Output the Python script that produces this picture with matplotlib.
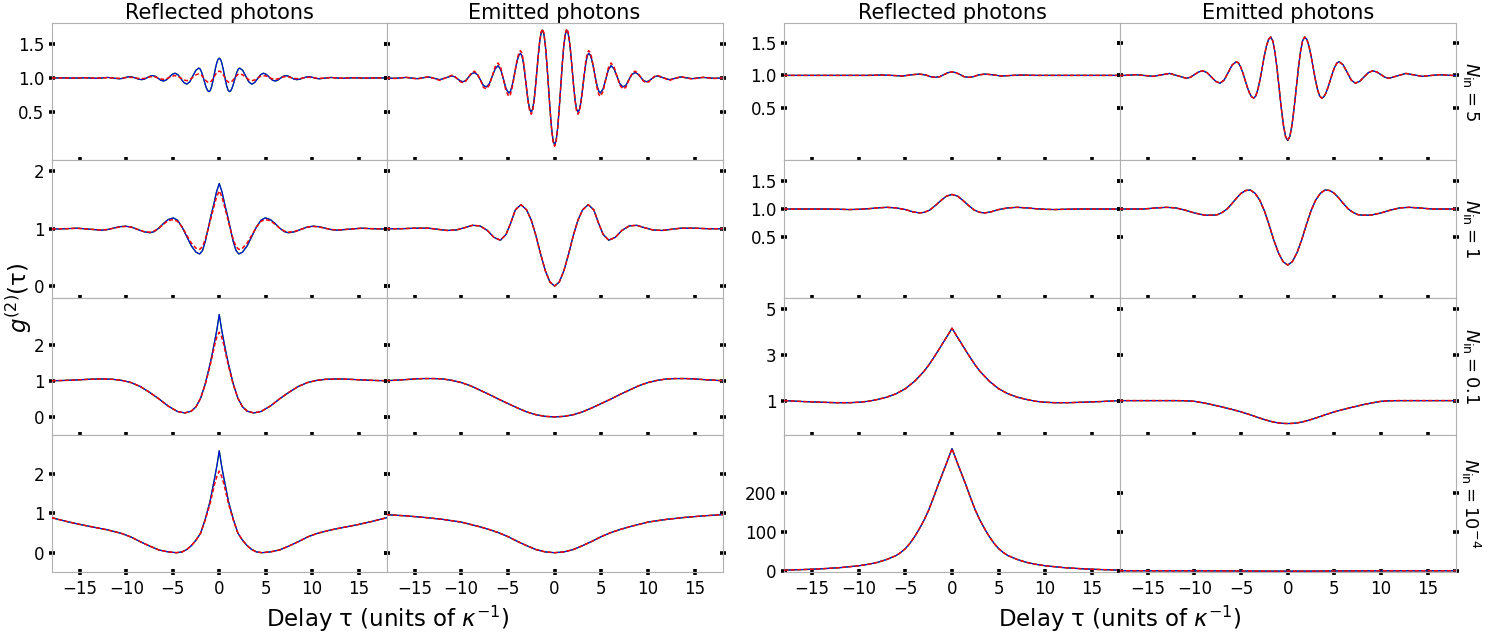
import numpy as np
import matplotlib
matplotlib.use('Agg')
import matplotlib.pyplot as plt

# ---------------- data (half curves, tau >= 0; curves are symmetric) ----------------
# Left group
tau_L1R = [0, 0.1375, 0.275, 0.4125, 0.55, 0.6875, 0.825, 0.9625, 1.1, 1.2375, 1.375, 1.5125, 1.65, 1.7875,
           1.925, 2.0625, 2.2, 2.525, 2.85, 3.175, 3.5, 3.81, 4.125, 4.44,
           4.75, 5.06, 5.375, 5.69, 6.0, 6.29, 6.575, 6.86, 7.15, 7.45, 7.75, 8.05, 8.35, 8.66, 8.975, 9.29,
           9.6, 9.9, 10.2, 10.5, 10.8, 11.4, 12.0, 12.6, 13.2, 13.8, 14.4, 15.6, 16.8, 18.0]
g_L1R_bg = [1.29, 1.271, 1.218, 1.139, 1.045, 0.951, 0.872, 0.819, 0.80, 0.813, 0.851, 0.906, 0.973, 1.039,
            1.094, 1.132, 1.145, 1.111, 1.028, 0.944, 0.91, 0.933, 0.99,
            1.047, 1.07, 1.053, 1.013, 0.972, 0.955, 0.967, 0.995, 1.023, 1.035, 1.026, 1.005, 0.984, 0.975, 0.982,
            0.997, 1.011, 1.018, 1.014, 1.003, 0.992, 0.988, 0.998, 1.008, 1.001, 0.995, 0.999, 1.003, 0.998, 1.001, 1.0]
g_L1R_r = [1.10, 1.094, 1.076, 1.049, 1.018, 0.986, 0.959, 0.941, 0.935, 0.940, 0.953, 0.974, 0.998, 1.021,
           1.042, 1.055, 1.06, 1.045, 1.01, 0.975, 0.96, 0.971, 0.998,
           1.024, 1.035, 1.027, 1.008, 0.988, 0.98, 0.986, 1.0, 1.014, 1.02, 1.016, 1.005, 0.994, 0.99, 0.993,
           1.0, 1.007, 1.01, 1.008, 1.002, 0.997, 0.995, 1.0, 1.005, 1.001, 0.998, 1.0, 1.002, 0.999, 1.0, 1.0]

tau_L1E = [0, 0.1625, 0.325, 0.4875, 0.65, 0.8125, 0.975, 1.1375, 1.3, 1.45, 1.6, 1.75, 1.9, 2.05, 2.2, 2.35,
           2.5, 2.644, 2.79, 2.931, 3.075, 3.219, 3.36, 3.506, 3.65, 3.806, 3.96, 4.119, 4.275, 4.431, 4.59,
           4.744, 4.9,
           5.19, 5.475, 5.76, 6.05, 6.36, 6.675, 6.99, 7.3, 7.625, 7.95, 8.275, 8.6, 8.9, 9.2, 9.5, 9.8, 10.1,
           10.4, 10.7, 11.0, 11.65, 12.3, 12.9, 13.5, 14.1, 14.7, 15.3, 15.9, 16.5, 17.1, 18.0]
g_L1E_bg = [0.02, 0.084, 0.266, 0.538, 0.86, 1.182, 1.454, 1.636, 1.70, 1.654, 1.524, 1.33, 1.10, 0.87, 0.676,
            0.546, 0.50, 0.533, 0.626, 0.765, 0.93, 1.095, 1.234, 1.327, 1.36, 1.338, 1.275, 1.181, 1.07, 0.959,
            0.865, 0.802, 0.78,
            0.839, 0.98, 1.121, 1.18, 1.135, 1.025, 0.915, 0.87, 0.889, 0.975, 1.049, 1.08, 1.06,
            1.013, 0.965, 0.945, 0.957, 0.988, 1.018, 1.03, 1.003, 0.975, 0.995, 1.015, 1.0025, 0.99, 0.999,
            1.008, 1.0015, 0.995, 1.0]
g_L1E_r = [0.0, 0.065, 0.252, 0.531, 0.86, 1.189, 1.468, 1.655, 1.72, 1.673, 1.537, 1.334, 1.095, 0.856, 0.653,
           0.517, 0.47, 0.505, 0.606, 0.757, 0.935, 1.113, 1.264, 1.365, 1.40, 1.375, 1.302, 1.193, 1.065, 0.937,
           0.828, 0.755, 0.73,
           0.802, 0.975, 1.148, 1.22, 1.164, 1.03, 0.896, 0.84, 0.862, 0.97, 1.062, 1.10, 1.075,
           1.015, 0.955, 0.93, 0.946, 0.985, 1.024, 1.04, 1.0025, 0.965, 0.9925, 1.02, 1.0025, 0.985, 0.9975,
           1.01, 1.0015, 0.993, 1.0]

tau_L2R = [0, 0.3, 0.6, 0.9, 1.2, 1.5, 1.8, 2.1, 2.5, 3.0, 3.5, 4.0, 4.5, 4.95, 5.5, 6.0, 6.5, 7.0, 7.45,
           8.1, 8.8, 9.45, 10.1, 10.75, 11.4, 12.05, 12.7, 14.0, 15.3, 16.6, 18.0]
g_L2R_bg = [1.79, 1.64, 1.42, 1.22, 1.00, 0.78, 0.62, 0.56, 0.59, 0.70, 0.865, 1.03, 1.15, 1.19, 1.16, 1.093,
            1.012, 0.95, 0.93, 0.947, 0.989, 1.029, 1.045, 1.035, 1.01, 0.985, 0.975, 0.9925, 1.01, 1.0, 0.995]
g_L2R_r = [1.66, 1.55, 1.37, 1.18, 0.99, 0.82, 0.69, 0.64, 0.66, 0.75, 0.89, 1.03, 1.13, 1.16, 1.14, 1.08,
           1.01, 0.96, 0.94, 0.952, 0.99, 1.027, 1.04, 1.031, 1.008, 0.987, 0.978, 0.993, 1.008, 1.0, 0.996]

tau_L2E = [0, 0.5, 1.0, 1.5, 2.0, 2.5, 3.0, 3.6, 4.2, 4.7, 5.2, 5.8, 6.5, 7.2, 8.0, 8.8, 9.6, 10.5, 11.5,
           12.5, 13.5, 15.0, 16.5, 18.0]
g_L2E = [0.0, 0.07, 0.27, 0.56, 0.88, 1.15, 1.33, 1.42, 1.33, 1.10, 0.90, 0.80, 0.85, 0.97, 1.05, 1.06, 1.02,
         0.98, 0.97, 0.99, 1.01, 1.01, 1.0, 1.0]

tau_L3R = [0, 0.25, 0.5, 0.75, 1.0, 1.5, 2.0, 2.5, 3.0, 3.7, 4.5, 5.5, 6.5, 7.5, 8.5, 9.5, 10.5, 11.5, 12.8,
           14.0, 15.5, 17.0, 18.0]
g_L3R_bg = [2.83, 2.42, 2.08, 1.75, 1.45, 0.92, 0.52, 0.28, 0.16, 0.11, 0.15, 0.30, 0.50, 0.68, 0.84, 0.95,
            1.01, 1.04, 1.05, 1.04, 1.02, 1.005, 1.0]
g_L3R_r = [2.34, 2.22, 1.98, 1.68, 1.40, 0.90, 0.52, 0.28, 0.16, 0.11, 0.15, 0.30, 0.50, 0.68, 0.84, 0.95,
           1.01, 1.04, 1.05, 1.04, 1.02, 1.005, 1.0]

tau_L3E = [0, 1, 2, 3, 4, 5, 6, 7, 8, 9, 10, 11, 12, 13, 14, 15, 16, 17, 18]
g_L3E = [0.0, 0.015, 0.06, 0.14, 0.25, 0.37, 0.49, 0.62, 0.74, 0.86, 0.95, 1.01, 1.05, 1.06, 1.06, 1.05,
         1.03, 1.015, 1.0]

tau_L4R = [0, 0.25, 0.5, 1.0, 1.5, 2.0, 2.5, 3.0, 3.5, 4.0, 4.6, 5.5, 6.5, 7.5, 8.5, 9.5, 10.5, 12.0, 13.5,
           15.0, 16.5, 18.0]
g_L4R_bg = [2.60, 2.22, 1.90, 1.30, 0.86, 0.50, 0.32, 0.18, 0.08, 0.02, 0.0, 0.02, 0.07, 0.17, 0.28, 0.40,
            0.49, 0.58, 0.65, 0.72, 0.80, 0.89]
g_L4R_r = [2.08, 1.95, 1.75, 1.24, 0.84, 0.50, 0.32, 0.18, 0.08, 0.02, 0.0, 0.02, 0.07, 0.17, 0.28, 0.40,
           0.49, 0.58, 0.65, 0.72, 0.80, 0.89]

tau_L4E = [0, 1, 2, 2.5, 3, 4, 5, 6, 7, 8, 9, 10, 12, 14, 15, 16, 18]
g_L4E = [0.0, 0.02, 0.08, 0.13, 0.18, 0.29, 0.41, 0.51, 0.59, 0.66, 0.72, 0.78, 0.85, 0.90, 0.92, 0.94, 0.97]

# Right group
tau_R1R = [0, 0.45, 0.9, 1.3, 1.8, 2.3, 2.8, 3.5, 4.3, 5.3, 6.5, 7.5, 9.0, 18.0]
g_R1R = [1.055, 1.04, 1.01, 0.98, 0.97, 0.98, 1.005, 1.02, 1.01, 0.99, 1.0, 1.005, 1.0, 1.0]

tau_R1E = [0, 0.2275, 0.455, 0.6825, 0.91, 1.1375, 1.365, 1.5925, 1.82, 2.0475, 2.275, 2.5025, 2.73, 2.9575,
           3.185, 3.4125, 3.64, 3.8725, 4.105, 4.3375, 4.57, 4.8025, 5.035, 5.2675, 5.5, 5.94, 6.375, 6.81,
           7.25, 7.71, 8.175, 8.64, 9.1, 9.54, 9.975, 10.41, 10.85, 11.75, 12.65, 13.525, 14.4, 15.3, 16.2,
           17.1, 18.0]
g_R1E = [0.0, 0.06, 0.233, 0.491, 0.795, 1.099, 1.357, 1.53, 1.59, 1.554, 1.452, 1.30, 1.12, 0.94,
         0.788, 0.686, 0.65, 0.671, 0.732, 0.823, 0.93, 1.037, 1.128, 1.189, 1.21, 1.162, 1.045, 0.928,
         0.88, 0.908, 0.975, 1.042, 1.07, 1.053, 1.013, 0.972, 0.955, 0.9925, 1.03, 1.0075, 0.985,
         0.9975, 1.01, 1.003, 0.997]

tau_R2R = [0, 0.6, 1.2, 1.8, 2.4, 3.0, 3.5, 4.2, 5.0, 6.0, 7.0, 8.0, 9.0, 10.0, 11.0, 12.0, 13.5, 18.0]
g_R2R = [1.26, 1.23, 1.15, 1.06, 0.98, 0.94, 0.93, 0.95, 0.99, 1.02, 1.03, 1.02, 1.005, 0.995, 0.99, 0.995,
         1.0, 1.0]

tau_R2E = [0, 0.5, 1.0, 1.5, 2.0, 2.5, 3.0, 3.5, 4.0, 4.5, 5.0, 5.5, 6.0, 6.5, 7.0, 7.5, 8.0, 8.9, 10.0,
           11.0, 12.0, 13.0, 14.0, 15.5, 18.0]
g_R2E = [0.0, 0.06, 0.22, 0.45, 0.72, 0.97, 1.16, 1.28, 1.34, 1.33, 1.28, 1.19, 1.09, 1.00, 0.94, 0.90,
         0.89, 0.89, 0.93, 0.98, 1.02, 1.03, 1.02, 1.0, 1.0]

tau_R3R = [0, 0.5, 1.0, 1.5, 2.0, 2.5, 3.0, 4.0, 5.0, 6.0, 7.0, 8.0, 9.0, 10.0, 11.0, 12.5, 14.0, 16.0, 18.0]
g_R3R = [4.16, 3.82, 3.5, 3.17, 2.85, 2.55, 2.28, 1.85, 1.52, 1.30, 1.15, 1.05, 0.97, 0.93, 0.91, 0.91, 0.93,
         0.96, 1.0]

tau_R3E = [0, 0.5, 1.0, 1.5, 2.0, 2.5, 3.0, 4.0, 5.0, 6.0, 7.0, 8.0, 9.0, 10.0, 11.0, 12.0, 15.0, 18.0]
g_R3E = [0.0, 0.007, 0.028, 0.065, 0.115, 0.175, 0.24, 0.38, 0.51, 0.62, 0.72, 0.815, 0.90, 0.97, 0.995, 1.0,
         1.0, 1.0]

tau_R4R = [0, 0.5, 1, 1.5, 2, 2.5, 3, 3.5, 4, 4.5, 5, 5.5, 6, 7, 8, 9, 10, 12, 14, 16, 18]
g_R4R = [315, 283, 252, 221, 188, 157, 131, 109, 89, 72, 58, 48, 40, 30, 22.5, 17.5, 13.8, 9, 6, 4, 2.5]

tau_R4E = [0, 1, 2, 3, 4, 5, 6, 7, 8, 10, 12, 14, 16, 18]
g_R4E = [0.0, 0.02, 0.08, 0.18, 0.29, 0.41, 0.51, 0.59, 0.66, 0.78, 0.85, 0.90, 0.94, 0.97]

col_titles = ['Reflected photons', 'Emitted photons']
row_labels = [r'$N_{\rm in} = 5$', r'$N_{\rm in} = 1$', r'$N_{\rm in} = 0.1$', r'$N_{\rm in} = 10^{-4}$']
xticks = [-15, -10, -5, 0, 5, 10, 15]
yticks_left = [[0.5, 1.0, 1.5], [0, 1, 2], [0, 1, 2], [0, 1, 2]]
yticks_right = [[0.5, 1.0, 1.5], [0.5, 1.0, 1.5], [1, 3, 5], [0, 100, 200]]
ylims_left = [(-0.2, 1.8), (-0.2, 2.2), (-0.5, 3.3), (-0.5, 3.0)]
ylims_right = [(-0.3, 1.8), (-0.58, 1.875), (-0.5, 5.5), (-3, 350)]

panels = {
    (0, 0, 0): (tau_L1R, g_L1R_bg, g_L1R_r), (0, 0, 1): (tau_L1E, g_L1E_bg, g_L1E_r),
    (0, 1, 0): (tau_L2R, g_L2R_bg, g_L2R_r), (0, 1, 1): (tau_L2E, g_L2E, g_L2E),
    (0, 2, 0): (tau_L3R, g_L3R_bg, g_L3R_r), (0, 2, 1): (tau_L3E, g_L3E, g_L3E),
    (0, 3, 0): (tau_L4R, g_L4R_bg, g_L4R_r), (0, 3, 1): (tau_L4E, g_L4E, g_L4E),
    (1, 0, 0): (tau_R1R, g_R1R, g_R1R), (1, 0, 1): (tau_R1E, g_R1E, g_R1E),
    (1, 1, 0): (tau_R2R, g_R2R, g_R2R), (1, 1, 1): (tau_R2E, g_R2E, g_R2E),
    (1, 2, 0): (tau_R3R, g_R3R, g_R3R), (1, 2, 1): (tau_R3E, g_R3E, g_R3E),
    (1, 3, 0): (tau_R4R, g_R4R, g_R4R), (1, 3, 1): (tau_R4E, g_R4E, g_R4E),
}


def mirror(t, v):
    t = np.asarray(t, float)
    v = np.asarray(v, float)
    return np.concatenate([-t[::-1], t[1:]]), np.concatenate([v[::-1], v[1:]])


# ---------------- layout ----------------
W, H = 1507, 635
fig = plt.figure(figsize=(W / 100, H / 100), dpi=100)
group_cols = [[(52, 386.5), (386.5, 722.7)], [(784.3, 1119.7), (1119.7, 1455.7)]]
row_y = [23.3, 160, 297.5, 435, 572.3]
spine_col = '#b0b0b0'

for g in range(2):
    for r in range(4):
        for c in range(2):
            x0, x1 = group_cols[g][c]
            y0, y1 = row_y[r], row_y[r + 1]
            ax = fig.add_axes([x0 / W, 1 - y1 / H, (x1 - x0) / W, (y1 - y0) / H])
            tau, gbg, gr = panels[(g, r, c)]
            t, ybg = mirror(tau, gbg)
            _, yr = mirror(tau, gr)
            ax.plot(t, ybg, color='g', lw=1.0, zorder=2)
            ax.plot(t, ybg, color='b', lw=0.75, zorder=3)
            ax.plot(t, yr, color='r', lw=1.1, ls=(0, (2.6, 1.6)), zorder=4)
            ax.set_xlim(-18, 18)
            ax.set_xticks(xticks)
            if g == 0:
                ax.set_ylim(*ylims_left[r])
                ax.set_yticks(yticks_left[r])
            else:
                ax.set_ylim(*ylims_right[r])
                ax.set_yticks(yticks_right[r])
            for s in ax.spines.values():
                s.set_color(spine_col)
                s.set_linewidth(0.8)
            ax.tick_params(axis='both', direction='inout', length=4.0, width=2.6, color='k',
                           labelsize=12, left=True, right=True, bottom=True, top=False,
                           labelleft=(c == 0), labelbottom=(r == 3))
            if r == 0:
                ax.set_title(col_titles[c], fontsize=15, pad=3.0)

# row labels on the right of the right group
for r in range(4):
    yc = (row_y[r] + row_y[r + 1]) / 2
    fig.text(1471 / W, 1 - yc / H, row_labels[r], rotation=270, ha='center', va='center', fontsize=13)

fig.text(19 / W, 1 - 298 / H, r'$g^{(2)}$(τ)', rotation=90, ha='center', va='center', fontsize=16.5)
for xc in [387.3, 1120.0]:
    fig.text(xc / W, 1 - 618.5 / H, r'Delay τ (units of $\kappa^{-1}$)', ha='center', va='center', fontsize=16.5)

fig.savefig('out.png', dpi=100)
